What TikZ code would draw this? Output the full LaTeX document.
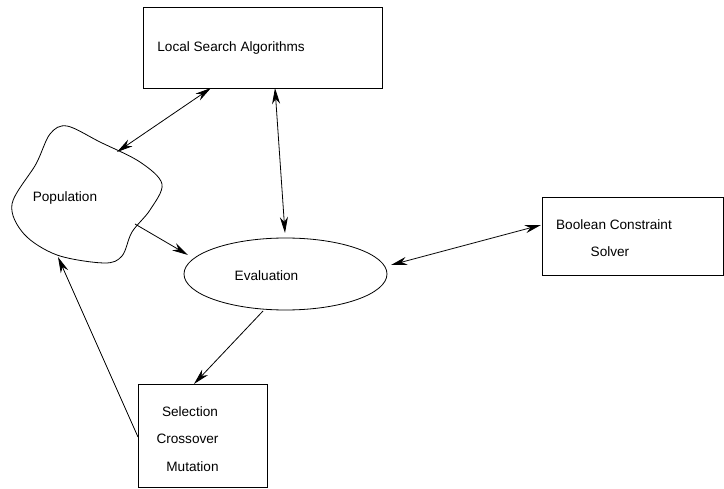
\documentclass[tikz,border=0pt]{standalone}
\usepackage{fontspec}
\setmainfont{Liberation Sans}
\usetikzlibrary{arrows.meta,shapes.geometric}

\begin{document}
\begin{tikzpicture}[x=1pt,y=-1pt,>={Stealth[length=16pt,width=8pt,inset=5pt]},line width=0.8pt,
  font=\fontsize{13.6}{16}\selectfont,
  box/.style={draw,rectangle,inner sep=0pt},
  txt/.style={inner sep=0pt}]
\useasboundingbox (0,0) rectangle (724,489);
% boxes
\node[box,minimum width=239pt,minimum height=81pt] (lsa) at (262.5,47.5) {};
\node[box,minimum width=181pt,minimum height=78pt] (bcs) at (633,236) {};
\node[box,minimum width=129pt,minimum height=103pt] (sel) at (202.5,435.5) {};
\node[draw,ellipse,inner sep=0pt,minimum width=203pt,minimum height=72pt] (eval) at (285.5,274) {};
% population
\draw plot[smooth cycle,tension=0.55] coordinates {
  (67,126) (100,142) (140,162) (162,184) (150,210) (132,232)
  (122,256) (104,263) (57,255) (24,234) (12,204) (36,164) (50,134)};
% texts
\node[txt,anchor=west] (lsatxt) at (157,48) {Local Search Algorithms};
\node[txt] (poptxt) at (65,198) {Population};
\node[txt] (evaltxt) at (266.5,276) {Evaluation};
\node[txt] (bcstxt) at (614,225) {Boolean Constraint};
\node[txt] (bcstxtb) at (610,252) {Solver};
\node[txt] (seltxt) at (190,412) {Selection};
\node[txt] (seltxtb) at (187.5,439) {Crossover};
\node[txt] (seltxtc) at (192.5,467) {Mutation};
% connector ends
\coordinate (lsaA) at (211,88);
\coordinate (lsaB) at (275,88);
\coordinate (popA) at (117,152);
\coordinate (popB) at (135,224);
\coordinate (popC) at (58,257);
\coordinate (evalN) at (285,233);
\coordinate (evalW) at (188,255);
\coordinate (evalE) at (391,265);
\coordinate (evalS) at (263,311);
\coordinate (bcsW) at (541,225);
\coordinate (selN) at (194,384);
\coordinate (selW) at (138,437);
% connectors
\draw[<->] (lsaA) -- (popA);
\draw[<->] (lsaB) -- (evalN);
\draw[->] (popB) -- (evalW);
\draw[<->] (evalE) -- (bcsW);
\draw[->] (evalS) -- (selN);
\draw[->] (selW) -- (popC);
\end{tikzpicture}
\end{document}
